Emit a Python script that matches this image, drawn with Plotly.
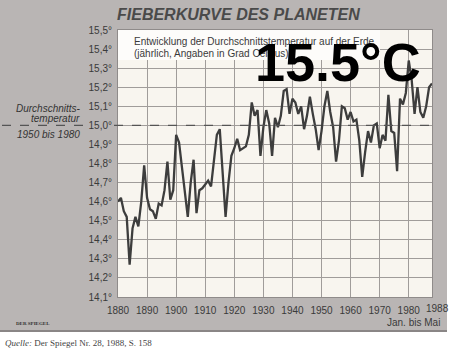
import plotly.graph_objects as go

years = list(range(1880, 1989))
temps = [
    14.60, 14.62, 14.55, 14.52, 14.27, 14.46, 14.52, 14.47, 14.60, 14.79,  # 1880-1889
    14.62, 14.56, 14.55, 14.51, 14.59, 14.58, 14.66, 14.81, 14.61, 14.66,  # 1890-1899
    14.95, 14.91, 14.78, 14.64, 14.52, 14.70, 14.82, 14.54, 14.66, 14.67,  # 1900-1909
    14.69, 14.71, 14.68, 14.81, 14.95, 14.98, 14.75, 14.52, 14.70, 14.84,  # 1910-1919
    14.88, 14.93, 14.87, 14.88, 14.89, 14.95, 15.12, 15.05, 15.08, 14.84,  # 1920-1929
    14.99, 15.08, 15.01, 14.84, 15.04, 14.99, 15.05, 15.18, 15.19, 15.06,  # 1930-1939
    15.14, 15.12, 15.06, 15.10, 14.98, 15.05, 15.15, 15.06, 14.98, 14.87,  # 1940-1949
    14.97, 15.10, 15.18, 15.07, 14.99, 14.81, 14.92, 15.10, 15.09, 15.03,  # 1950-1959
    15.07, 15.02, 15.03, 14.92, 14.73, 14.86, 14.97, 14.91, 15.00, 15.01,  # 1960-1969
    14.88, 14.95, 14.92, 15.16, 14.97, 14.96, 14.76, 15.14, 15.11, 15.17,  # 1970-1979
    15.34, 15.24, 15.06, 15.20, 15.07, 15.04, 15.10, 15.20, 15.22,         # 1980-1988
]

ytick_vals = [14.1, 14.2, 14.3, 14.4, 14.5, 14.6, 14.7, 14.8, 14.9, 15.0, 15.1, 15.2, 15.3, 15.4, 15.5]
ytick_text = ["14,1°", "14,2°", "14,3°", "14,4°", "14,5°", "14,6°", "14,7°", "14,8°", "14,9°",
              "15,0°", "15,1°", "15,2°", "15,3°", "15,4°", "15,5°"]
xtick_vals = [1880, 1890, 1900, 1910, 1920, 1930, 1940, 1950, 1960, 1970, 1980]
xtick_text = [str(v) for v in xtick_vals]

W, H = 460, 351
L, R, T, B = 118, 28, 30, 54
PW, PH = W - L - R, H - T - B


def px(x):
    return (x - L) / PW


def py(y):
    return (H - B - y) / PH


GRAY = "#b9b5b4"
PAPER = "#f8f5ef"
INK = "#3a3a3a"
NARROW = "Liberation Sans Narrow, Liberation Sans, Arial, sans-serif"

fig = go.Figure()
fig.add_trace(go.Scatter(x=years, y=temps, mode="lines",
                         line=dict(color="#3d3d3d", width=2.3), hoverinfo="skip"))

shapes = [
    dict(type="rect", xref="paper", yref="paper", x0=px(0), x1=px(447), y0=py(331), y1=py(0),
         fillcolor=GRAY, line=dict(width=0), layer="below"),
    dict(type="line", xref="paper", yref="paper", x0=px(0), x1=px(447), y0=py(331), y1=py(331),
         line=dict(color="#8a8686", width=2), layer="below"),
    dict(type="rect", xref="paper", yref="paper", x0=0, x1=1, y0=0, y1=1,
         fillcolor=PAPER, line=dict(width=0), layer="below"),
    dict(type="rect", xref="paper", yref="paper", x0=0, x1=px(380), y0=py(60), y1=1,
         fillcolor="#fdfcfa", line=dict(width=0), layer="above"),
    dict(type="line", xref="paper", yref="y", x0=px(2), x1=px(90), y0=15.0, y1=15.0,
         line=dict(color="#555555", width=1.4, dash="dash")),
    dict(type="line", xref="paper", yref="y", x0=px(114), x1=1, y0=15.0, y1=15.0,
         line=dict(color="#555555", width=1.4, dash="dash")),
]

annotations = [
    dict(text="<b><i>FIEBERKURVE DES PLANETEN</i></b>", x=px(238), y=py(14),
         font=dict(family="Liberation Sans, Arial", size=16, color="#4a4a4a")),
    dict(text="Entwicklung der Durchschnittstemperatur auf der Erde", x=px(132), y=py(41),
         xanchor="left", font=dict(family=NARROW, size=10, color=INK)),
    dict(text="(jährlich, Angaben in Grad Celsius)", x=px(132), y=py(53),
         xanchor="left", font=dict(family=NARROW, size=10, color=INK)),
    dict(text="<i>Durchschnitts-</i>", x=px(48), y=py(108),
         font=dict(family=NARROW, size=10, color="#333333")),
    dict(text="<i>temperatur</i>", x=px(55), y=py(118),
         font=dict(family=NARROW, size=10, color="#333333")),
    dict(text="<i>1950 bis 1980</i>", x=px(48), y=py(134),
         font=dict(family=NARROW, size=10, color="#333333")),
    dict(text="1988", x=px(437), y=py(308),
         font=dict(family=NARROW, size=10, color=INK)),
    dict(text="Jan. bis Mai", x=px(442), y=py(322), xanchor="right",
         font=dict(family=NARROW, size=10, color=INK)),
    dict(text="<b>DER SPIEGEL</b>", x=px(14), y=py(323), xanchor="left",
         font=dict(family="Liberation Serif, serif", size=5, color="#333333")),
    dict(text="<i>Quelle:</i> Der Spiegel Nr. 28, 1988, S. 158", x=px(3), y=py(343), xanchor="left",
         font=dict(family="Liberation Serif, serif", size=9, color="#444444")),
    dict(text="<b>15.5°C</b>", x=px(338), y=py(62),
         font=dict(family="Liberation Sans, Arial", size=54, color="#000000")),
]
for a in annotations:
    a.setdefault("xref", "paper")
    a.setdefault("yref", "paper")
    a.setdefault("showarrow", False)
    a.setdefault("yanchor", "middle")
    a.setdefault("xanchor", "center")

fig.update_layout(
    width=W, height=H,
    margin=dict(l=L, r=R, t=T, b=B),
    paper_bgcolor="white",
    plot_bgcolor=PAPER,
    showlegend=False,
    shapes=shapes,
    annotations=annotations,
    xaxis=dict(range=[1880, 1988], tickvals=xtick_vals, ticktext=xtick_text,
               showgrid=True, gridcolor="#a09c9a", gridwidth=1, zeroline=False,
               showline=True, linecolor="#8f8b8a", linewidth=1, mirror=True,
               ticks="", ticklabelstandoff=4,
               tickfont=dict(family=NARROW, size=10, color=INK)),
    yaxis=dict(range=[14.1, 15.5], tickvals=ytick_vals, ticktext=ytick_text,
               showgrid=True, gridcolor="#a09c9a", gridwidth=1, zeroline=False,
               showline=True, linecolor="#8f8b8a", linewidth=1, mirror=True,
               ticks="", ticklabelstandoff=3,
               tickfont=dict(family=NARROW, size=10, color=INK)),
)

fig.write_html("out.html")
